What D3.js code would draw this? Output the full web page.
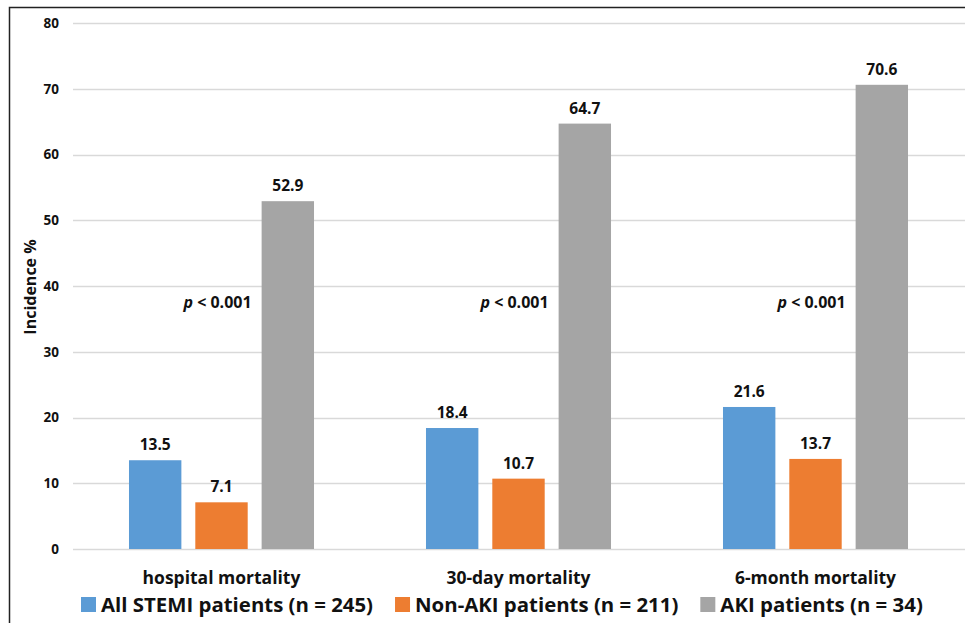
<!DOCTYPE html>
<html><head><meta charset="utf-8">
<script src="https://cdn.jsdelivr.net/npm/d3@7"></script>
<style>
html,body{margin:0;padding:0;background:#fff;}
svg{display:block;font-family:"Open Sans",sans-serif;}
</style></head>
<body>
<svg id="chart" width="965" height="623"></svg>
<script>
const categories = ["hospital mortality", "30-day mortality", "6-month mortality"];
const seriesNames = ["All STEMI patients (n = 245)", "Non-AKI patients (n = 211)", "AKI patients (n = 34)"];
const seriesColors = ["#5b9bd5", "#ed7d31", "#a5a5a5"];
const allStemi = [13.5, 18.4, 21.6];
const nonAki = [7.1, 10.7, 13.7];
const aki = [52.9, 64.7, 70.6];
const pLabels = ["p < 0.001", "p < 0.001", "p < 0.001"];
const yTicks = [0, 10, 20, 30, 40, 50, 60, 70, 80];
const yTitle = "Incidence %";

const series = [allStemi, nonAki, aki];
const svg = d3.select("#chart");

// frame
svg.append("path").attr("d", "M9.5,623 V7.5 H965").attr("fill", "none").attr("stroke", "#222").attr("stroke-width", 1.5);

const y = d3.scaleLinear().domain([0, 80]).range([549, 23]);
const x0 = d3.scaleBand().domain(categories).range([73, 964]).paddingInner(0.377).paddingOuter(0.1885);
const x1 = d3.scaleBand().domain(d3.range(3)).range([0, x0.bandwidth()]).paddingInner(0.21);

// gridlines
svg.append("g").selectAll("line").data(yTicks).join("line")
  .attr("x1", 73).attr("x2", 965)
  .attr("y1", d => Math.round(y(d)) + 0.5).attr("y2", d => Math.round(y(d)) + 0.5)
  .attr("stroke", "#d9d9d9").attr("stroke-width", 1.5);

// y axis labels
const yAxis = d3.axisLeft(y).tickValues(yTicks).tickSize(0).tickPadding(0);
const ya = svg.append("g").attr("transform", "translate(59,0)").call(yAxis);
ya.select(".domain").remove();
ya.selectAll("text").attr("font-size", 13.5).attr("font-weight", 700).attr("fill", "#111")
  .attr("font-family", "'Open Sans', sans-serif");

svg.append("text").attr("transform", "translate(36,287) rotate(-90)")
  .attr("text-anchor", "middle").attr("font-size", 16).attr("font-weight", 700).attr("fill", "#111")
  .text(yTitle);

// bars
const groups = svg.append("g").selectAll("g").data(categories).join("g")
  .attr("transform", d => `translate(${x0(d)},0)`);

groups.each(function(cat, ci) {
  const g = d3.select(this);
  series.forEach((vals, si) => {
    const v = vals[ci];
    g.append("rect").attr("x", x1(si)).attr("width", x1.bandwidth())
      .attr("y", y(v)).attr("height", y(0) - y(v)).attr("fill", seriesColors[si]);
    g.append("text").attr("x", x1(si) + x1.bandwidth() / 2).attr("y", y(v) - 10)
      .attr("text-anchor", "middle").attr("font-size", 15.5).attr("font-weight", 700).attr("fill", "#111")
      .text(d3.format(".1f")(v));
  });
  const pt = g.append("text").attr("x", x1(2) - 10).attr("y", y(36.6))
    .attr("text-anchor", "end").attr("font-size", 16).attr("font-weight", 700).attr("fill", "#111");
  const parts = pLabels[ci].split(" ");
  pt.append("tspan").attr("font-style", "italic").text(parts[0]);
  pt.append("tspan").text(" " + parts.slice(1).join(" "));
  g.append("text").attr("x", x0.bandwidth() / 2).attr("y", 584)
    .attr("text-anchor", "middle").attr("font-size", 17.5).attr("font-weight", 700).attr("fill", "#111")
    .text(cat);
});

// legend (laid out sequentially from measured text widths)
const lg = svg.append("g");
let lx = 81;
seriesNames.forEach((name, i) => {
  lg.append("rect").attr("x", lx).attr("y", 597).attr("width", 15).attr("height", 15).attr("fill", seriesColors[i]);
  const t = lg.append("text").attr("x", lx + 20).attr("y", 611.5).attr("font-size", 20.4).attr("font-weight", 700)
    .attr("fill", "#111").text(name);
  lx = lx + 20 + t.node().getComputedTextLength() + 22;
});
</script>
</body></html>
